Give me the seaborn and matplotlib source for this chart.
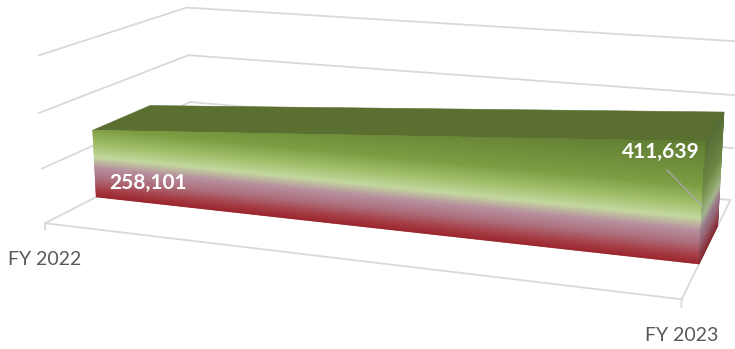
import numpy as np
import matplotlib
matplotlib.use("Agg")
import matplotlib.pyplot as plt
from matplotlib.colors import LinearSegmentedColormap, to_rgb
import seaborn as sns
from mpl_toolkits.mplot3d import proj3d
from mpl_toolkits.mplot3d.art3d import Poly3DCollection

categories = ["FY 2022", "FY 2023"]
values = [258101, 411639]
value_labels = ["258,101", "411,639"]
gridlines = [0, 200000, 400000, 600000]

sns.set_theme(style="white")
plt.rcParams["font.family"] = ["Lato", "DejaVu Sans"]

W, H = 735, 349
fig = plt.figure(figsize=(W / 100, H / 100), dpi=100)
ax = fig.add_axes([0.1, 0.1, 0.5, 0.5 * W / H], projection="3d", computed_zorder=False)
ax.set_xlim(0, 1)
ax.set_ylim(0, 1)
ax.set_zlim(0, gridlines[-1])
ax.set_axis_off()
ax.view_init(elev=14.04, azim=-70.141, roll=0)
ax.set_proj_type("persp", focal_length=0.3907)
ax.set_box_aspect((1, 0.4961, 0.2674))

# --- layout: place the 3-D box so that its corners sit where the reference frame sits
frame3d = np.array([[0, 0, 0], [1, 0, 0], [1, 1, 0], [0, 0, 200000], [0, 0, 400000],
                    [0, 0, 600000], [0, 1, 200000], [0, 1, 400000], [0, 1, 600000]], float)
frame_px = np.array([[47, 223], [682, 300], [730, 200], [40, 168], [38, 113], [35, 57],
                     [192, 103], [188, 55], [185, 7]], float)
fig.canvas.draw()
M = ax.get_proj()
u, v, _ = proj3d.proj_transform(frame3d[:, 0], frame3d[:, 1], frame3d[:, 2], M)
u = np.asarray(u); v = np.asarray(v)
n = len(u)
A = np.zeros((2 * n, 3)); b = np.zeros(2 * n)
A[:n, 0] = u; A[:n, 1] = 1; b[:n] = frame_px[:, 0]
A[n:, 0] = v; A[n:, 2] = 1; b[n:] = H - frame_px[:, 1]
(s, tx, ty), *_ = np.linalg.lstsq(A, b, rcond=None)
q0 = ax.transData.transform((0, 0)); q1 = ax.transData.transform((1, 1))
bb = ax.get_position()
x0, y0, L = bb.x0 * W, bb.y0 * H, bb.width * W
umin = (x0 - q0[0]) / (q1[0] - q0[0])
vmin = (y0 - q0[1]) / (q1[1] - q0[1])
Lp = L * s / (q1[0] - q0[0])
ax.set_position([(tx + umin * s) / W, (ty + vmin * s) / H, Lp / W, Lp / H])

# depth span of the area series (fraction of floor depth)
yf, yb = 0.31, 0.698
v0, v1 = values

# walls, floor, gridlines
grid_kw = dict(color="#d9d9d9", lw=1.3, zorder=1)
for z in gridlines:
    ax.plot([0, 0], [0, 1], [z, z], **grid_kw)
    ax.plot([0, 1], [1, 1], [z, z], **grid_kw)
ax.plot([0, 1], [0, 0], [0, 0], **grid_kw)
ax.plot([1, 1], [0, 1], [0, 0], **grid_kw)
for i in range(len(categories)):
    ax.plot([i, i], [0, 0], [0, -25000], **grid_kw)

# gradient fill of the 3-D area
cmap = LinearSegmentedColormap.from_list("g", [
    (0.0, "#9a2229"), (0.07, "#a43a43"), (0.18, "#ad6f7c"), (0.28, "#b68e9e"),
    (0.38, "#c3d89e"), (0.5, "#a0be68"), (0.65, "#7b9b3f"), (1.0, "#5d7a2f")])
shade = np.array(to_rgb("#3a3a50"))

zs = np.linspace(0, v1, 160)
zs = np.unique(np.concatenate([zs, [v0]]))
polys, cols = [], []
for za, zb in zip(zs[:-1], zs[1:]):
    xa = max(0.0, (za - v0) / (v1 - v0))
    xb = max(0.0, (zb - v0) / (v1 - v0))
    c = np.array(cmap(0.5 * (za + zb) / v1)[:3])
    polys.append([(xa, yf, za), (1, yf, za), (1, yf, zb), (xb, yf, zb)])
    cols.append(c)
    polys.append([(1, yf, za), (1, yb, za), (1, yb, zb), (1, yf, zb)])
    cols.append(c * 0.78 + 0.22 * shade)
polys.append([(0, yf, v0), (1, yf, v1), (1, yb, v1), (0, yb, v0)])
cols.append(np.array(to_rgb("#5a6f30")))
pc = Poly3DCollection(polys, facecolors=cols, edgecolors=cols, linewidths=0.4, zorder=5)
ax.add_collection3d(pc)

M = ax.get_proj()


def p2(x, y, z):
    a, b, _ = proj3d.proj_transform(x, y, z, M)
    return (float(a), float(b))


for i, cat in enumerate(categories):
    ax.annotate(cat, xy=p2(i, 0, 0), xytext=(0, -26), textcoords="offset points",
                ha="center", va="center", fontsize=14, color="#595959", zorder=10)
ax.annotate(value_labels[0], xy=p2(0, yf, 0), xytext=(37, 10), textcoords="offset points",
            ha="center", va="center", fontsize=15, fontweight="bold", color="white", zorder=10)
ax.annotate(value_labels[1], xy=p2(1, yf, values[1] * 0.48), xytext=(-29.5, 39),
            textcoords="offset points", ha="center", va="center", fontsize=15,
            fontweight="bold", color="white", zorder=10,
            arrowprops=dict(arrowstyle="-", color="#a6a6a6", lw=1, shrinkA=5, shrinkB=0,
                            relpos=(0.47, 0.0)))

fig.savefig("out.png", dpi=100)
